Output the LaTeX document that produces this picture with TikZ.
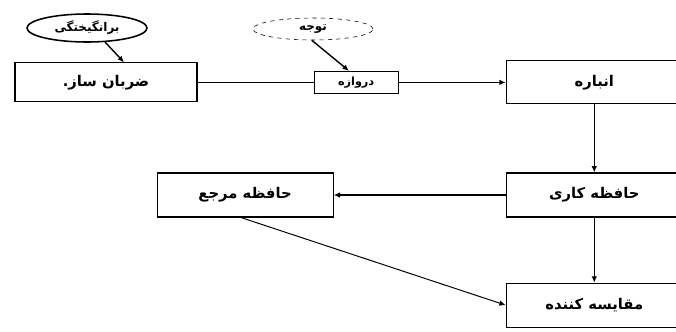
\documentclass[tikz,border=0pt]{standalone}
\usepackage{fontspec}
\newfontfamily\farsi[Script=Arabic]{DejaVu Sans}
\TeXXeTstate=1
\usetikzlibrary{arrows.meta, positioning, shapes.geometric}
\newcommand{\fa}[1]{\beginR #1\endR}

\begin{document}
\begin{tikzpicture}[
  node distance=1.7cm and 2.9cm,
  rbox/.style={rectangle, draw=black, line width=0.8pt, fill=white,
               minimum width=4.4cm, minimum height=1.1cm, inner sep=2pt,
               font=\farsi\bfseries\fontsize{10.5}{12.6}\selectfont},
  ebox/.style={ellipse, draw=black, minimum width=3cm, minimum height=0.7cm,
               inner sep=1pt, font=\farsi\bfseries\fontsize{8.5}{10}\selectfont},
  arr/.style={-{Latex[length=4.5pt, width=4pt]}, line width=1pt},
  ln/.style={line width=0.8pt}
]
\useasboundingbox (0,0) rectangle (16.9,-8.275);
\clip (0,0) rectangle (16.9,-8.275);
% top row
\node[rbox, minimum width=4.55cm, minimum height=0.975cm] (pacer) at (2.65,-2.06) {\fa{ضربان ساز.}};
\node[rbox, right=2.9cm of pacer, minimum width=2.1cm, minimum height=0.55cm,
      font=\farsi\bfseries\fontsize{8}{9.6}\selectfont] (gate) {\fa{دروازه}};
\node[rbox, right=2.675cm of gate, minimum height=1.075cm] (accum) {\fa{انباره}};
% memory
\node[rbox, below=1.7cm of accum] (workmem) {\fa{حافظه کاری}};
\node[rbox, left=4.3cm of workmem] (refmem) {\fa{حافظه مرجع}};
\node[rbox, below=1.625cm of workmem] (compar) {\fa{مقایسه کننده}};
% inputs
\node[ebox, line width=1.1pt] (arousal) at (2.175,-0.7) {\fa{برانگیختگی}};
\node[ebox, dashed, minimum height=0.55cm] (attn) at (7.825,-0.725) {\fa{توجه}};

\draw[arr] (arousal.south) ++(0.45,0.02) -- ([xshift=0.45cm]pacer.north);
\draw[arr] ([xshift=-0.03cm]attn.south) -- ([xshift=-0.18cm]gate.north);
\draw[ln]  (pacer) -- (gate);
\draw[arr] (gate) -- (accum);
\draw[arr] (accum) -- (workmem);
\draw[arr] (workmem) -- (refmem);
\draw[arr] (workmem) -- (compar);
\draw[arr, line width=0.7pt] ([xshift=-0.1cm]refmem.south) -- (compar.west);
\end{tikzpicture}
\end{document}
